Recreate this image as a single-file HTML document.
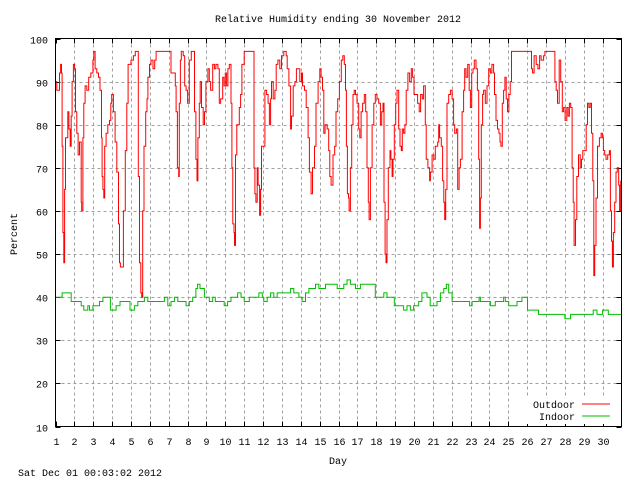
<!DOCTYPE html>
<html><head><meta charset="utf-8"><style>
body{margin:0;background:#fff}
svg{display:block}
text{font-family:"Liberation Mono",monospace;font-size:10px;fill:#000}
</style></head><body>
<svg id="chart" width="640" height="480" viewBox="0 0 640 480" xmlns="http://www.w3.org/2000/svg">
<text x="338" y="22" text-anchor="middle">Relative Humidity ending 30 November 2012</text>
<text x="17" y="234" text-anchor="middle" transform="rotate(-90 17 234)">Percent</text>
<text x="338" y="464" text-anchor="middle">Day</text>
<text x="18" y="476">Sat Dec 01 00:03:02 2012</text>
<g id="grid"></g>
<g id="ticks"></g>
<g id="series"></g>
<rect x="526" y="396" width="94" height="28" fill="#fff"/>
<g>
<text x="575" y="408" text-anchor="end">Outdoor</text>
<line x1="582" y1="404" x2="610" y2="404" stroke="#f00" stroke-width="1"/>
</g>
<g>
<text x="575" y="420" text-anchor="end">Indoor</text>
<line x1="582" y1="416" x2="610" y2="416" stroke="#0b0" stroke-width="1"/>
</g>
<rect x="55.5" y="38.5" width="566" height="388" fill="none" stroke="#000" stroke-width="1"/>
</svg>
<script>
const yTicks=[10,20,30,40,50,60,70,80,90,100];
const xTicks=[1,2,3,4,5,6,7,8,9,10,11,12,13,14,15,16,17,18,19,20,21,22,23,24,25,26,27,28,29,30];
const outdoorDays=[1.00,1.07,1.21,1.27,1.32,1.35,1.39,1.44,1.48,1.53,1.65,1.71,1.78,1.83,1.88,1.95,2.01,2.06,2.13,2.20,2.27,2.36,2.39,2.45,2.50,2.57,2.66,2.76,2.87,2.98,3.03,3.10,3.19,3.28,3.36,3.44,3.47,3.51,3.56,3.61,3.68,3.77,3.86,3.93,3.98,4.07,4.16,4.25,4.34,4.39,4.44,4.53,4.60,4.70,4.78,4.85,5.00,5.13,5.23,5.34,5.39,5.45,5.52,5.57,5.62,5.69,5.78,5.85,5.90,5.98,6.06,6.17,6.26,6.33,7.03,7.12,7.25,7.35,7.39,7.46,7.53,7.56,7.62,7.67,7.77,7.85,7.92,8.00,8.09,8.20,8.30,8.37,8.44,8.50,8.55,8.62,8.67,8.74,8.83,8.90,8.97,9.08,9.15,9.22,9.33,9.42,9.50,9.61,9.68,9.75,9.86,9.93,10.00,10.07,10.14,10.21,10.30,10.35,10.40,10.46,10.49,10.54,10.61,10.74,10.81,10.88,11.00,11.46,11.52,11.57,11.62,11.69,11.74,11.82,11.87,11.92,12.04,12.10,12.19,12.27,12.34,12.40,12.45,12.54,12.63,12.70,12.79,12.89,12.98,13.10,13.23,13.28,13.37,13.46,13.51,13.60,13.69,13.77,13.84,13.95,14.04,14.09,14.20,14.29,14.39,14.46,14.55,14.62,14.73,14.81,14.92,15.01,15.08,15.15,15.22,15.29,15.40,15.48,15.54,15.61,15.71,15.80,15.87,15.96,16.05,16.15,16.23,16.31,16.37,16.42,16.47,16.53,16.56,16.63,16.70,16.77,16.83,16.90,16.98,17.07,17.13,17.20,17.28,17.37,17.44,17.51,17.58,17.62,17.69,17.78,17.87,17.95,18.04,18.13,18.22,18.29,18.36,18.41,18.47,18.52,18.57,18.64,18.73,18.78,18.84,18.89,18.96,19.03,19.10,19.19,19.26,19.33,19.38,19.45,19.52,19.59,19.68,19.77,19.86,19.93,20.00,20.09,20.19,20.28,20.35,20.44,20.51,20.60,20.65,20.74,20.83,20.87,20.96,21.05,21.13,21.26,21.31,21.36,21.45,21.52,21.58,21.63,21.68,21.75,21.84,21.93,22.02,22.10,22.16,22.25,22.32,22.39,22.46,22.55,22.63,22.69,22.76,22.85,22.93,22.99,23.06,23.13,23.20,23.29,23.36,23.43,23.48,23.52,23.57,23.64,23.69,23.78,23.87,23.96,24.05,24.13,24.22,24.27,24.35,24.43,24.50,24.56,24.61,24.68,24.75,24.82,24.89,24.96,25.03,25.10,25.17,26.16,26.23,26.29,26.37,26.48,26.57,26.66,26.74,26.87,26.94,27.40,27.47,27.54,27.61,27.70,27.78,27.86,27.93,28.01,28.10,28.17,28.24,28.31,28.38,28.44,28.49,28.56,28.63,28.72,28.81,28.88,28.95,29.04,29.13,29.20,29.27,29.34,29.41,29.48,29.53,29.58,29.65,29.73,29.83,29.92,29.99,30.04,30.11,30.18,30.27,30.36,30.41,30.47,30.52,30.57,30.64,30.71,30.78,30.85,30.90,30.96];
const outdoorValues=[90,88,92,94,92,75,55,48,65,77,83,79,75,82,90,94,93,83,78,73,76,62,60,77,85,89,88,91,92,95,97,93,92,91,88,77,68,65,63,75,78,80,81,85,87,83,76,69,57,48,47,47,60,74,85,94,95,96,97,97,68,48,41,40,60,75,83,86,91,94,95,93,95,97,97,92,92,89,83,70,68,85,95,97,96,89,88,85,95,97,97,83,72,67,77,85,90,84,80,83,90,93,90,88,94,93,94,93,85,86,91,89,92,89,93,94,85,70,57,55,52,73,80,84,87,94,97,97,70,64,62,70,66,59,65,75,75,88,87,85,80,86,90,86,88,94,95,93,96,97,96,93,89,79,82,89,90,93,93,90,92,89,88,84,77,69,64,70,75,85,90,93,91,88,78,80,79,74,68,66,73,75,83,86,90,95,96,94,88,75,64,63,60,70,80,87,88,87,85,79,77,83,85,87,83,70,62,58,70,80,85,87,86,85,80,83,85,62,50,48,58,70,74,72,68,72,80,85,88,79,75,74,79,78,80,88,92,90,93,91,87,87,85,83,87,86,89,80,72,70,67,69,73,72,75,76,80,77,75,67,62,58,65,85,87,88,86,80,78,79,65,70,72,83,88,93,91,94,88,84,92,93,95,93,88,72,56,63,80,87,88,85,89,93,92,94,92,87,81,79,78,76,75,85,88,91,86,83,87,90,97,97,93,92,96,94,93,96,95,96,97,97,90,88,85,95,90,83,84,81,84,82,85,84,70,62,52,58,68,73,70,72,74,74,80,85,84,85,78,67,45,52,63,75,77,78,77,74,73,72,73,74,60,53,47,55,62,69,70,66,60,67];
const indoorDays=[1.00,1.12,1.35,1.78,1.83,2.27,2.36,2.50,2.71,2.80,2.98,3.33,3.51,3.82,3.91,4.21,4.42,4.83,4.95,5.18,5.36,5.53,5.71,5.89,6.33,6.77,6.95,7.12,7.30,7.48,7.74,7.92,8.09,8.27,8.44,8.53,8.66,8.89,9.15,9.33,9.47,9.68,9.94,10.12,10.30,10.65,10.83,11.00,11.27,11.52,11.78,11.96,12.04,12.22,12.40,12.57,12.75,13.28,13.46,13.63,13.90,14.07,14.25,14.43,14.78,14.96,15.31,15.93,16.28,16.45,16.63,16.90,17.16,17.78,17.95,18.40,18.57,18.96,19.45,19.63,19.81,19.98,20.25,20.42,20.69,20.86,21.01,21.22,21.40,21.58,21.72,21.84,22.02,22.95,23.08,23.45,23.52,24.05,24.31,24.75,24.84,25.02,25.46,25.72,26.02,26.6,28.0,28.3,29.5,29.7,30.0,30.3,31.0];
const indoorValues=[40,40,41,41,39,39,38,37,38,37,38,39,40,40,37,38,39,39,37,38,39,39,40,39,39,40,38,39,40,39,39,38,39,40,42,43,42,40,39,40,39,39,38,39,40,41,40,39,40,40,41,40,39,40,41,40,41,41,42,41,40,39,41,42,43,42,43,42,43,44,43,42,43,43,40,41,40,38,37,38,37,38,39,41,40,38,38,39,41,42,43,41,39,38,39,40,39,38,39,40,39,38,39,40,37,36,35,36,37,36,37,36,36];

const NS='http://www.w3.org/2000/svg';
const L=55.5,R=621.5,T=38.5,B=426.5;
const xScale=d=>L+(d-1)/30*(R-L);
const yScale=v=>B-(v-10)/90*(B-T);
const grid=document.getElementById('grid'),ticks=document.getElementById('ticks'),series=document.getElementById('series');
function mk(tag,attrs,parent){const e=document.createElementNS(NS,tag);for(const k in attrs)e.setAttribute(k,attrs[k]);parent.appendChild(e);return e;}
yTicks.forEach(v=>{
  const y=Math.round(yScale(v))+0.5;
  if(v>10&&v<100){const g=mk('line',{x1:L,x2:R,y1:y,y2:y,stroke:'#a0a0a0','stroke-dasharray':'3,3'},grid);
  
  }
  mk('line',{x1:L,x2:L+5,y1:y,y2:y,stroke:'#000'},ticks);
  mk('line',{x1:R-5,x2:R,y1:y,y2:y,stroke:'#000'},ticks);
  const t=mk('text',{x:48,y:y+4,'text-anchor':'end'},ticks);t.textContent=v;
  
  
});
xTicks.forEach(d=>{
  const x=Math.round(xScale(d))+0.5;
  if(d>1){const g=mk('line',{x1:x,x2:x,y1:T,y2:B,stroke:'#a0a0a0','stroke-dasharray':'3,3'},grid);
  
  }
  mk('line',{x1:x,x2:x,y1:B-5,y2:B,stroke:'#000'},ticks);
  mk('line',{x1:x,x2:x,y1:T,y2:T+5,stroke:'#000'},ticks);
  const t=mk('text',{x:x,y:445,'text-anchor':'middle'},ticks);t.textContent=d;
  
  
});
function stepLine(days,vals,color,name){
  const pts=[];
  days.forEach((d,i)=>{
    const x=xScale(d).toFixed(1);
    if(i>0)pts.push(x+','+yScale(vals[i-1]).toFixed(1));
    pts.push(x+','+yScale(vals[i]).toFixed(1));
  });
  const p=mk('polyline',{points:pts.join(' '),fill:'none',stroke:color,'stroke-width':1},series);
  
  
}
stepLine(outdoorDays,outdoorValues,'#f00','outdoor-line');
stepLine(indoorDays,indoorValues,'#0b0','indoor-line');
</script>
</body></html>
